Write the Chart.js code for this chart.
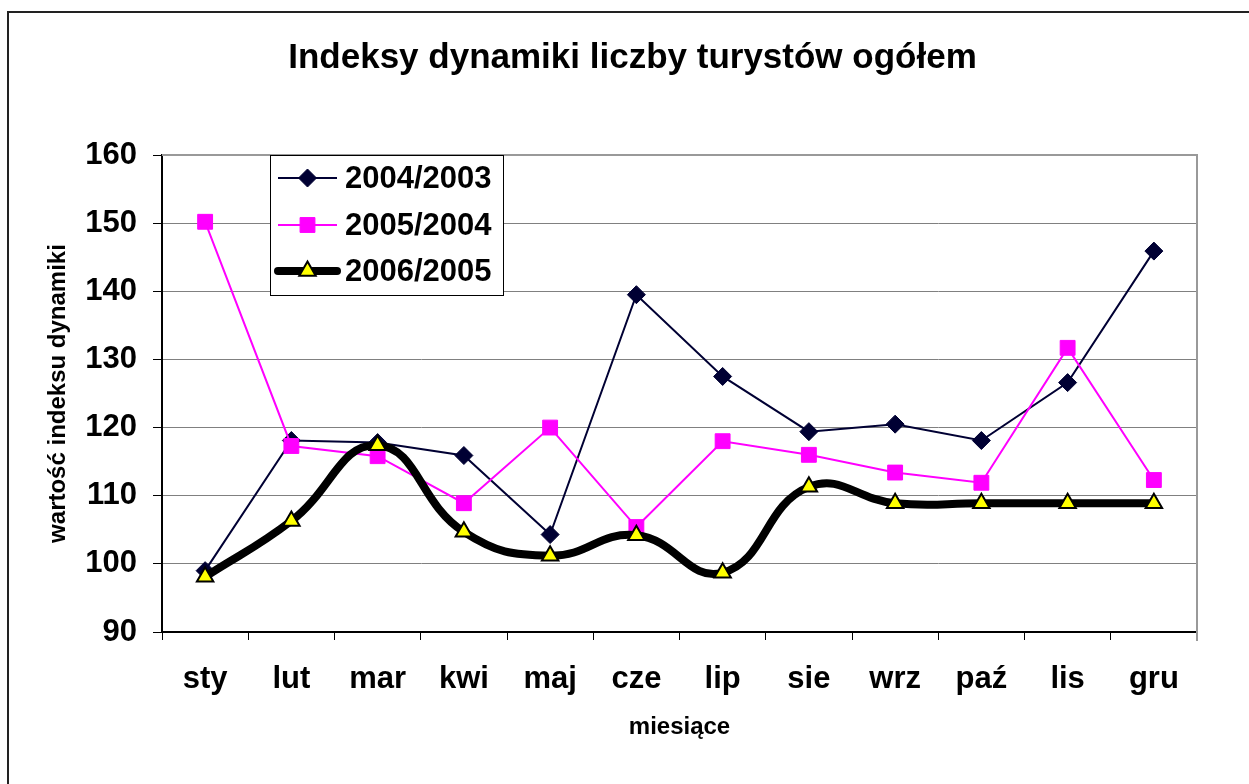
<!DOCTYPE html>
<html>
<head>
<meta charset="utf-8">
<script src="https://cdn.jsdelivr.net/npm/chart.js@4.4.1/dist/chart.umd.min.js"></script>
<style>
  body { margin: 0; background: #fff; }
  #wrap { width: 1249px; height: 784px; }
</style>
</head>
<body>
<div id="wrap"><canvas id="chart" width="1249" height="784"></canvas></div>
<script>
const months = ['sty', 'lut', 'mar', 'kwi', 'maj', 'cze', 'lip', 'sie', 'wrz', 'paź', 'lis', 'gru'];
const seriesNames = ['2004/2003', '2005/2004', '2006/2005'];
const idx2004 = [99.0, 118.1, 117.8, 115.9, 104.3, 139.5, 127.5, 119.4, 120.5, 118.1, 126.6, 145.9];
const idx2005 = [150.2, 117.3, 115.8, 108.9, 120.0, 105.4, 118.0, 116.0, 113.4, 111.9, 131.7, 112.3];
const idx2006 = [98.1, 106.3, 117.4, 104.7, 101.2, 104.2, 98.7, 111.3, 108.9, 108.9, 108.9, 108.9];
const yTicks = [90, 100, 110, 120, 130, 140, 150, 160];

const FONT = '"Liberation Sans", Arial, sans-serif';

// white page, outer frame, plot borders and the legend box
const framePlugin = {
  id: 'frame',
  beforeDraw(chart) {
    const ctx = chart.ctx;
    ctx.save();
    ctx.fillStyle = '#fff';
    ctx.fillRect(0, 0, chart.width, chart.height);
    ctx.strokeStyle = '#222';
    ctx.lineWidth = 2;
    ctx.strokeRect(8, 12, chart.width + 20, chart.height + 20);
    ctx.restore();
  },
  afterDraw(chart) {
    const ctx = chart.ctx;
    const area = chart.chartArea;
    ctx.save();
    ctx.strokeStyle = '#999';
    ctx.lineWidth = 2;
    ctx.beginPath();
    ctx.moveTo(area.left, area.top);
    ctx.lineTo(area.right, area.top);
    ctx.lineTo(area.right, area.bottom + 9);
    ctx.stroke();

    // legend
    const box = { x: 270, y: 155, w: 233, h: 140 };
    ctx.fillStyle = '#fff';
    ctx.fillRect(box.x, box.y, box.w, box.h);
    ctx.strokeStyle = '#000';
    ctx.lineWidth = 1;
    ctx.strokeRect(box.x + 0.5, box.y + 0.5, box.w, box.h);

    const rows = [178, 225, 271];
    seriesNames.forEach((name, i) => {
      const ds = chart.data.datasets.find(d => d.label === name);
      const y = rows[i];
      ctx.strokeStyle = ds.borderColor;
      ctx.lineWidth = ds.borderWidth;
      ctx.lineCap = ds.borderWidth > 4 ? 'round' : 'butt';
      ctx.beginPath();
      ctx.moveTo(278, y);
      ctx.lineTo(337, y);
      ctx.stroke();
      ctx.fillStyle = ds.pointBackgroundColor;
      ctx.strokeStyle = ds.pointBorderColor;
      ctx.lineWidth = ds.pointBorderWidth;
      Chart.helpers.drawPoint(ctx, {
        pointStyle: ds.pointStyle,
        radius: ds.pointRadius,
        rotation: 0,
        borderWidth: ds.pointBorderWidth
      }, 307.5, y);
      ctx.fillStyle = '#000';
      ctx.font = 'bold 31px ' + FONT;
      ctx.textBaseline = 'middle';
      ctx.textAlign = 'left';
      ctx.fillText(name, 345, y + 1);
    });
    ctx.restore();
  }
};

new Chart(document.getElementById('chart'), {
  type: 'line',
  data: {
    labels: months,
    datasets: [
      {
        label: seriesNames[0],
        data: idx2004,
        order: 2,
        borderColor: '#000033',
        borderWidth: 2,
        pointStyle: 'rectRot',
        pointRadius: 9,
        pointBackgroundColor: '#000033',
        pointBorderColor: '#000033',
        pointBorderWidth: 1,
        tension: 0
      },
      {
        label: seriesNames[1],
        data: idx2005,
        order: 1,
        borderColor: '#ff00ff',
        borderWidth: 2,
        pointStyle: 'rect',
        pointRadius: 10.5,
        pointBackgroundColor: '#ff00ff',
        pointBorderColor: '#ff00ff',
        pointBorderWidth: 1,
        tension: 0
      },
      {
        label: seriesNames[2],
        data: idx2006,
        order: 0,
        borderColor: '#000000',
        borderWidth: 8,
        pointStyle: 'triangle',
        pointRadius: 9.5,
        pointBackgroundColor: '#ffff00',
        pointBorderColor: '#000000',
        pointBorderWidth: 2,
        tension: 0.45
      }
    ]
  },
  options: {
    responsive: false,
    animation: false,
    layout: {
      padding: { left: 16, right: 0, top: 0, bottom: 0 }
    },
    plugins: {
      legend: { display: false },
      tooltip: { enabled: false },
      title: {
        display: true,
        text: 'Indeksy dynamiki liczby turystów ogółem',
        color: '#000',
        font: { family: FONT, size: 35, weight: 'bold', lineHeight: 1.2 },
        padding: { top: 37, bottom: 76 }
      }
    },
    scales: {
      x: {
        offset: true,
        grid: {
          offset: true,
          drawOnChartArea: false,
          color: '#000',
          tickLength: 8
        },
        border: { color: '#000', width: 2 },
        ticks: {
          color: '#000',
          padding: 21,
          maxRotation: 0,
          font: { family: FONT, size: 31, weight: 'bold' }
        },
        title: {
          display: true,
          text: 'miesiące',
          color: '#000',
          font: { family: FONT, size: 24, weight: 'bold', lineHeight: 1.2 },
          padding: { top: 42, bottom: 42 }
        },
        afterFit(scale) { scale.height = 152; }
      },
      y: {
        min: 90,
        max: 160,
        afterBuildTicks(scale) {
          scale.ticks = yTicks.map(v => ({ value: v }));
        },
        grid: {
          color: '#808080',
          lineWidth: 1,
          tickColor: '#000',
          tickLength: 9
        },
        border: { color: '#000', width: 2 },
        ticks: {
          color: '#000',
          padding: 16,
          font: { family: FONT, size: 31, weight: 'bold' }
        },
        title: {
          display: true,
          text: 'wartość indeksu dynamiki',
          color: '#000',
          font: { family: FONT, size: 24, weight: 'bold', lineHeight: 1.2 },
          padding: { top: 28, bottom: 28 }
        },
        afterFit(scale) { scale.width = 146; }
      },
      yRight: {
        position: 'right',
        display: true,
        grid: { display: false, drawTicks: false },
        border: { display: false },
        ticks: { display: false },
        afterFit(scale) { scale.width = 52; }
      }
    }
  },
  plugins: [framePlugin]
});
</script>
</body>
</html>
